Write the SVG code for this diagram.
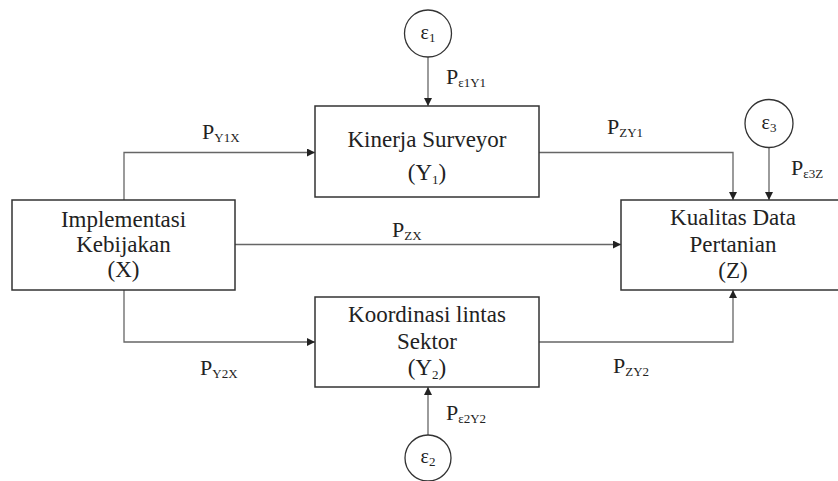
<svg xmlns="http://www.w3.org/2000/svg" width="838" height="481" viewBox="0 0 838 481">
<defs>
<marker id="ah" viewBox="0 0 10 10" refX="10" refY="5" markerWidth="8" markerHeight="8" markerUnits="userSpaceOnUse" orient="auto">
<path d="M0,0 L10,5 L0,10 z" fill="#222"/>
</marker>
</defs>
<g id="connectors" fill="none" stroke="#666" stroke-width="1.3">
<path marker-end="url(#ah)" d="M124,200 V152.5 H315"/>
<path marker-end="url(#ah)" d="M124,290 V342 H315"/>
<path marker-end="url(#ah)" d="M235,244.5 H621"/>
<path marker-end="url(#ah)" d="M539,152.5 H733 V200"/>
<path marker-end="url(#ah)" d="M539,342 H733 V290"/>
<path marker-end="url(#ah)" d="M428,57 V106"/>
<path marker-end="url(#ah)" d="M428,435 V387"/>
<path marker-end="url(#ah)" d="M769,148 V200"/>
</g>
<g id="labels" fill="#222" stroke="none">
<text font-family="Liberation Serif" font-size="22" x="202" y="139">P<tspan font-size="13" dy="3">Y1X</tspan></text>
<text font-family="Liberation Serif" font-size="22" x="446" y="84">P<tspan font-size="13" dy="3">ε1Y1</tspan></text>
<text font-family="Liberation Serif" font-size="22" x="607" y="134">P<tspan font-size="13" dy="3">ZY1</tspan></text>
<text font-family="Liberation Serif" font-size="22" x="791" y="175">P<tspan font-size="13" dy="3">ε3Z</tspan></text>
<text font-family="Liberation Serif" font-size="22" x="392" y="237">P<tspan font-size="13" dy="3">ZX</tspan></text>
<text font-family="Liberation Serif" font-size="22" x="200" y="375">P<tspan font-size="13" dy="3">Y2X</tspan></text>
<text font-family="Liberation Serif" font-size="22" x="613" y="373">P<tspan font-size="13" dy="3">ZY2</tspan></text>
<text font-family="Liberation Serif" font-size="22" x="446" y="420">P<tspan font-size="13" dy="3">ε2Y2</tspan></text>
</g>
<g id="X">
<rect x="12" y="200" width="223" height="90" fill="#fff" stroke="#333" stroke-width="1.5"/>
<text font-family="Liberation Serif" font-size="23" fill="#222" text-anchor="middle" x="123.5" y="227">Implementasi</text>
<text font-family="Liberation Serif" font-size="23" fill="#222" text-anchor="middle" x="123.5" y="252">Kebijakan</text>
<text font-family="Liberation Serif" font-size="23" fill="#222" text-anchor="middle" x="123.5" y="277">(X)</text>
</g>
<g id="Y1">
<rect x="315" y="106" width="224" height="91" fill="#fff" stroke="#333" stroke-width="1.5"/>
<text font-family="Liberation Serif" font-size="23" fill="#222" text-anchor="middle" x="427" y="147">Kinerja Surveyor</text>
<text font-family="Liberation Serif" font-size="23" fill="#222" text-anchor="middle" x="427" y="180">(Y<tspan font-size="13" dy="4">1</tspan><tspan dy="-4">)</tspan></text>
</g>
<g id="Y2">
<rect x="315" y="297" width="224" height="90" fill="#fff" stroke="#333" stroke-width="1.5"/>
<text font-family="Liberation Serif" font-size="23" fill="#222" text-anchor="middle" x="427" y="322">Koordinasi lintas</text>
<text font-family="Liberation Serif" font-size="23" fill="#222" text-anchor="middle" x="427" y="349">Sektor</text>
<text font-family="Liberation Serif" font-size="23" fill="#222" text-anchor="middle" x="427" y="375">(Y<tspan font-size="13" dy="4">2</tspan><tspan dy="-4">)</tspan></text>
</g>
<g id="Z">
<rect x="621" y="200" width="224" height="90" fill="#fff" stroke="#333" stroke-width="1.5"/>
<text font-family="Liberation Serif" font-size="23" fill="#222" text-anchor="middle" x="733" y="225">Kualitas Data</text>
<text font-family="Liberation Serif" font-size="23" fill="#222" text-anchor="middle" x="733" y="252">Pertanian</text>
<text font-family="Liberation Serif" font-size="23" fill="#222" text-anchor="middle" x="733" y="278">(Z)</text>
</g>
<g id="e1">
<circle cx="428" cy="33.5" r="23.5" fill="#fff" stroke="#333" stroke-width="1.3"/>
<text font-family="Liberation Serif" font-size="20" fill="#222" text-anchor="middle" x="428" y="39">ε<tspan font-size="13" dy="3">1</tspan></text>
</g>
<g id="e3">
<circle cx="769" cy="123.5" r="24" fill="#fff" stroke="#333" stroke-width="1.3"/>
<text font-family="Liberation Serif" font-size="20" fill="#222" text-anchor="middle" x="769" y="129">ε<tspan font-size="13" dy="3">3</tspan></text>
</g>
<g id="e2">
<circle cx="428" cy="458" r="23" fill="#fff" stroke="#333" stroke-width="1.3"/>
<text font-family="Liberation Serif" font-size="20" fill="#222" text-anchor="middle" x="428" y="463">ε<tspan font-size="13" dy="3">2</tspan></text>
</g>
</svg>
